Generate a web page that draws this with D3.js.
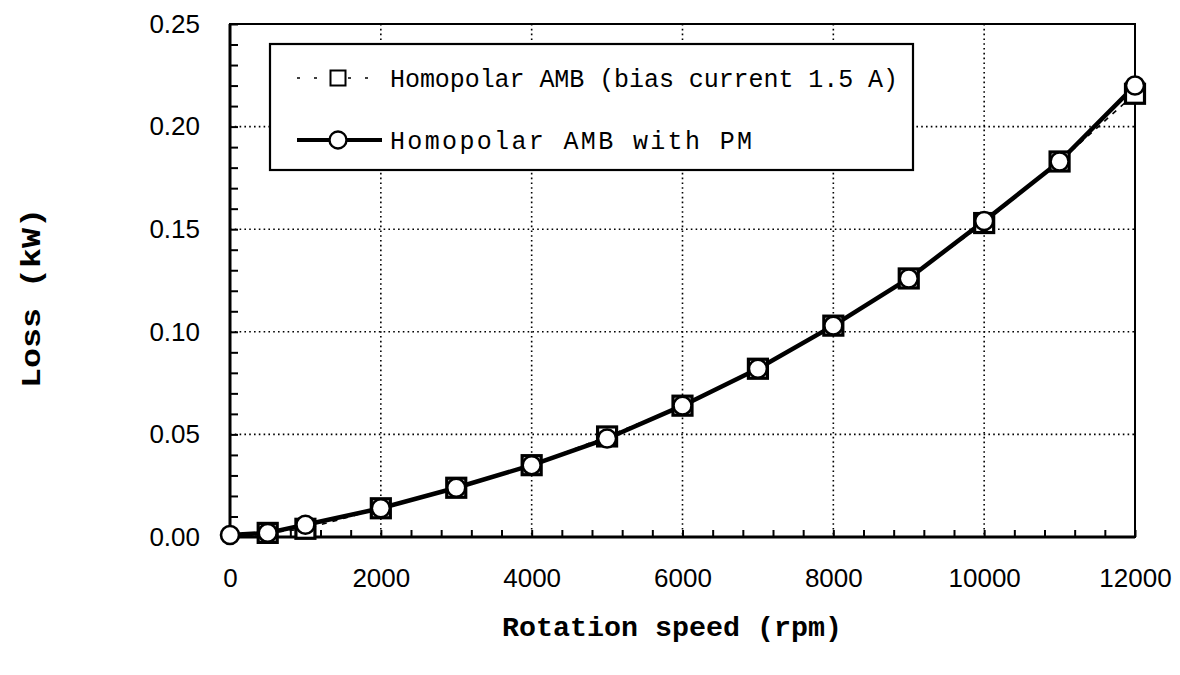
<!DOCTYPE html>
<html>
<head>
<meta charset="utf-8">
<script src="https://cdn.jsdelivr.net/npm/d3@7"></script>
<style>
  html, body { margin: 0; padding: 0; background: #fff; }
  svg { display: block; }
</style>
</head>
<body>
<svg id="chart" width="1180" height="675"></svg>
<script>
// ---- data ----
const speedsPM = [0, 500, 1000, 2000, 3000, 4000, 5000, 6000, 7000, 8000, 9000, 10000, 11000, 12000];
const lossPM   = [0.001, 0.002, 0.006, 0.014, 0.024, 0.035, 0.048, 0.064, 0.082, 0.103, 0.126, 0.154, 0.183, 0.220];
const speedsAMB = [500, 1000, 2000, 3000, 4000, 5000, 6000, 7000, 8000, 9000, 10000, 11000, 12000];
const lossAMB   = [0.002, 0.004, 0.014, 0.024, 0.035, 0.049, 0.064, 0.082, 0.103, 0.126, 0.153, 0.183, 0.216];
const xTickValues = [0, 2000, 4000, 6000, 8000, 10000, 12000];
const yTickValues = [0, 0.05, 0.10, 0.15, 0.20, 0.25];
const xGridValues = [2000, 4000, 6000, 8000, 10000];
const yGridValues = [0.05, 0.10, 0.15, 0.20];
const legendLabels = ["Homopolar AMB (bias current 1.5 A)", "Homopolar AMB with PM"];
const xTitle = "Rotation speed (rpm)";
const yTitle = "Loss (kW)";

// ---- layout ----
const L = 230, R = 1135, T = 24, B = 537;
const svg = d3.select("#chart");
svg.append("rect").attr("width", 1180).attr("height", 675).attr("fill", "#fff");

const x = d3.scaleLinear().domain([0, 12000]).range([L, R]);
const y = d3.scaleLinear().domain([0, 0.25]).range([B, T]);

// gridlines
const grid = svg.append("g").attr("stroke", "#000").attr("stroke-width", 1.6)
  .attr("stroke-dasharray", "1.6,3.2");
grid.selectAll("line.v").data(xGridValues).join("line").attr("class", "v")
  .attr("x1", d => x(d)).attr("x2", d => x(d)).attr("y1", T).attr("y2", B);
grid.selectAll("line.h").data(yGridValues).join("line").attr("class", "h")
  .attr("x1", L).attr("x2", R).attr("y1", d => y(d)).attr("y2", d => y(d));

// minor inward ticks
const yMinor = svg.append("g").attr("transform", `translate(${L},0)`)
  .call(d3.axisRight(y).tickValues(d3.range(0, 0.2501, 0.01)).tickSize(8).tickFormat(""));
const xMinor = svg.append("g").attr("transform", `translate(0,${B})`)
  .call(d3.axisTop(x).tickValues(d3.range(0, 12001, 400)).tickSize(7).tickFormat(""));
[yMinor, xMinor].forEach(g => {
  g.select(".domain").remove();
  g.selectAll("line").attr("stroke", "#000").attr("stroke-width", 2);
});

// tick labels
const yLab = svg.append("g").attr("transform", `translate(${L},0)`)
  .call(d3.axisLeft(y).tickValues(yTickValues).tickSize(0).tickPadding(30).tickFormat(d3.format(".2f")));
const xLab = svg.append("g").attr("transform", `translate(0,${B})`)
  .call(d3.axisBottom(x).tickValues(xTickValues).tickSize(0).tickPadding(32).tickFormat(d3.format("d")));
[yLab, xLab].forEach(g => {
  g.select(".domain").remove();
  g.selectAll("text").attr("fill", "#000")
    .attr("font-family", "'Liberation Sans', Arial, sans-serif").attr("font-size", 26);
});

// frame
svg.append("rect").attr("x", L).attr("y", T).attr("width", R - L).attr("height", B - T)
  .attr("fill", "none").attr("stroke", "#000").attr("stroke-width", 2);
svg.append("line").attr("x1", L).attr("x2", L).attr("y1", T).attr("y2", B + 1.5)
  .attr("stroke", "#000").attr("stroke-width", 3);
svg.append("line").attr("x1", L).attr("x2", R).attr("y1", B).attr("y2", B)
  .attr("stroke", "#000").attr("stroke-width", 3);

// series
const ambData = speedsAMB.map((s, i) => [s, lossAMB[i]]);
const pmData = speedsPM.map((s, i) => [s, lossPM[i]]);
const line = d3.line().x(d => x(d[0])).y(d => y(d[1]));

svg.append("path").datum(ambData).attr("d", line).attr("fill", "none")
  .attr("stroke", "#000").attr("stroke-width", 1.6).attr("stroke-dasharray", "5,6");
svg.append("path").datum(pmData).attr("d", line).attr("fill", "none")
  .attr("stroke", "#000").attr("stroke-width", 4.5).attr("stroke-linejoin", "round");

const sq = 19;
svg.append("g").selectAll("rect").data(ambData).join("rect")
  .attr("x", d => x(d[0]) - sq / 2).attr("y", d => y(d[1]) - sq / 2)
  .attr("width", sq).attr("height", sq)
  .attr("fill", "#fff").attr("stroke", "#000").attr("stroke-width", 3.2);
svg.append("g").selectAll("circle").data(pmData).join("circle")
  .attr("cx", d => x(d[0])).attr("cy", d => y(d[1])).attr("r", 9)
  .attr("fill", "#fff").attr("stroke", "#000").attr("stroke-width", 2.6);

// legend
const lg = svg.append("g");
lg.append("rect").attr("x", 270).attr("y", 44).attr("width", 643).attr("height", 126)
  .attr("fill", "#fff").attr("stroke", "#000").attr("stroke-width", 2.2);
const rows = [78, 140];
lg.append("line").attr("x1", 297).attr("x2", 382).attr("y1", rows[0]).attr("y2", rows[0])
  .attr("stroke", "#000").attr("stroke-width", 1.6).attr("stroke-dasharray", "3,14");
lg.append("rect").attr("x", 338 - 7.5).attr("y", rows[0] - 7.5).attr("width", 15).attr("height", 15)
  .attr("fill", "#fff").attr("stroke", "#000").attr("stroke-width", 2);
lg.append("line").attr("x1", 297).attr("x2", 382).attr("y1", rows[1]).attr("y2", rows[1])
  .attr("stroke", "#000").attr("stroke-width", 4);
lg.append("circle").attr("cx", 338).attr("cy", rows[1]).attr("r", 8.5)
  .attr("fill", "#fff").attr("stroke", "#000").attr("stroke-width", 2.4);
const legendLens = [508, 362];
legendLabels.forEach((t, i) => {
  lg.append("text").attr("x", 390).attr("y", rows[i]).attr("dy", "0.35em")
    .attr("font-family", "'Liberation Mono', 'Courier New', monospace").attr("font-size", 25)
    .attr("textLength", legendLens[i]).attr("lengthAdjust", "spacing")
    .attr("fill", "#000").text(t);
});

// axis titles
svg.append("text").attr("x", 672).attr("y", 636).attr("text-anchor", "middle")
  .attr("font-family", "'Liberation Mono', 'Courier New', monospace").attr("font-weight", "bold")
  .attr("font-size", 27).attr("textLength", 340).attr("lengthAdjust", "spacingAndGlyphs")
  .attr("fill", "#000").text(xTitle);
svg.append("text").attr("transform", "translate(40,298) rotate(-90)").attr("text-anchor", "middle")
  .attr("font-family", "'Liberation Mono', 'Courier New', monospace").attr("font-weight", "bold")
  .attr("font-size", 27).attr("textLength", 180).attr("lengthAdjust", "spacingAndGlyphs")
  .attr("fill", "#000").text(yTitle);
</script>
</body>
</html>
